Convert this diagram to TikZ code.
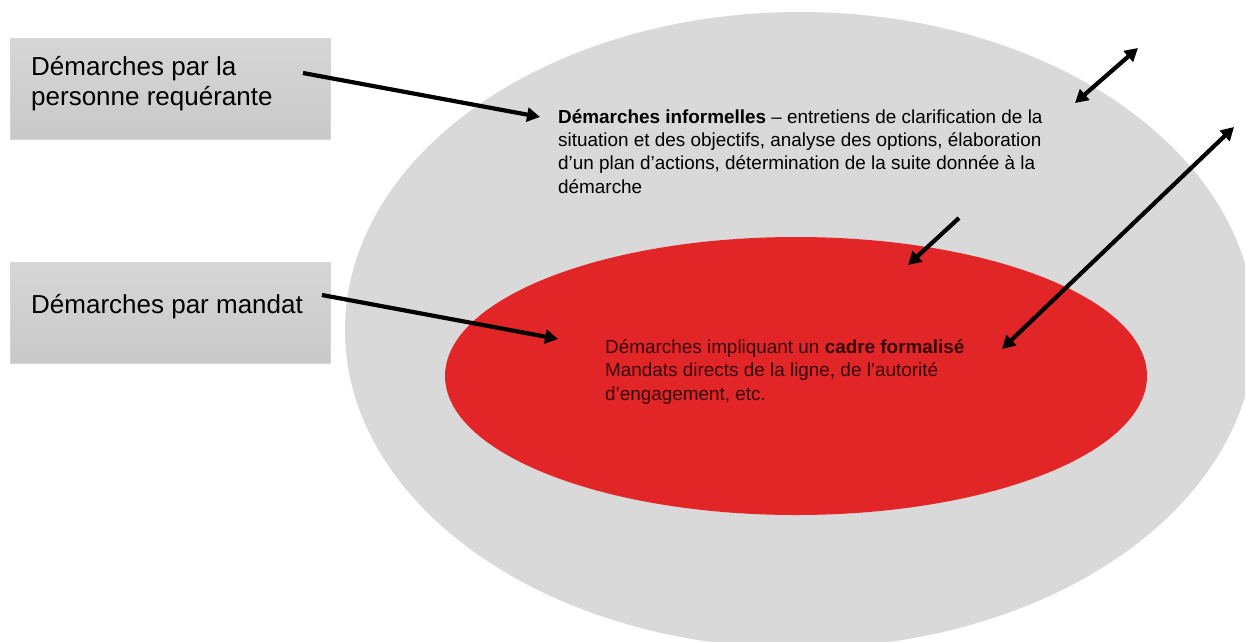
\documentclass[tikz,border=0pt]{standalone}
\usepackage{fontspec}
\setmainfont{Liberation Sans}
\usetikzlibrary{arrows.meta,shapes.geometric}
\definecolor{outerg}{RGB}{217,217,217}
\definecolor{boxg}{RGB}{201,201,201}
\definecolor{boxgt}{RGB}{214,214,214}
\definecolor{redfill}{RGB}{226,38,40}
\definecolor{redtext}{RGB}{55,8,8}
\tikzset{
  lbox/.style={draw=boxgt, line width=0.8pt, top color=boxgt, bottom color=boxg, minimum width=320pt, minimum height=101pt, anchor=north west},
  lbl/.style={font=\fontsize{26}{30}\selectfont, align=left, anchor=base west, inner sep=0pt},
  arr/.style={line width=4.2pt, -{Triangle[length=13pt,width=14pt]}},
  darr/.style={line width=4.2pt, {Triangle[length=13pt,width=14pt]}-{Triangle[length=13pt,width=14pt]}},
  body/.style={font=\fontsize{18.9}{23.3}\selectfont, align=left, anchor=base west, inner sep=0pt}
}
\begin{document}
\begin{tikzpicture}[x=1pt,y=-1pt]
\useasboundingbox (0,0) rectangle (1245,641);
\begin{scope}
\clip (0,0) rectangle (1245,641);
\fill[outerg] (800,330) ellipse [x radius=455, y radius=318];
\end{scope}
\node[ellipse, fill=redfill, minimum width=702pt, minimum height=278pt, inner sep=0pt] (inner) at (796,376) {};
\node[lbox] (b1) at (10,38) {};
\node[lbox] (b2) at (10,262) {};
\node[lbl] (t1) at (31,105) {Démarches par la\\personne requérante};
\node[lbl] (t2) at (31,313) {Démarches par mandat};
\node[body] (inf) at (558,193) {\textbf{Démarches informelles} -- entretiens de clarification de la\\situation et des objectifs, analyse des options, élaboration\\d’un plan d’actions, détermination de la suite donnée à la\\démarche};
\node[body, text=redtext] (form) at (605,400) {Démarches impliquant un \textbf{cadre formalisé}\\Mandats directs de la ligne, de l’autorité\\d’engagement, etc.};
\coordinate (a1s) at (303,73); \coordinate (a1e) at (540,117);
\coordinate (a2s) at (322,295); \coordinate (a2e) at (558,339);
\coordinate (a3s) at (1075,103); \coordinate (a3e) at (1138,48);
\coordinate (a4s) at (1234,127); \coordinate (a4e) at (1002,349);
\coordinate (a5s) at (959,218); \coordinate (a5e) at (908,265);
\draw[arr] (a1s) -- (a1e);
\draw[arr] (a2s) -- (a2e);
\draw[darr] (a3s) -- (a3e);
\draw[darr] (a4s) -- (a4e);
\draw[arr] (a5s) -- (a5e);
\end{tikzpicture}
\end{document}
